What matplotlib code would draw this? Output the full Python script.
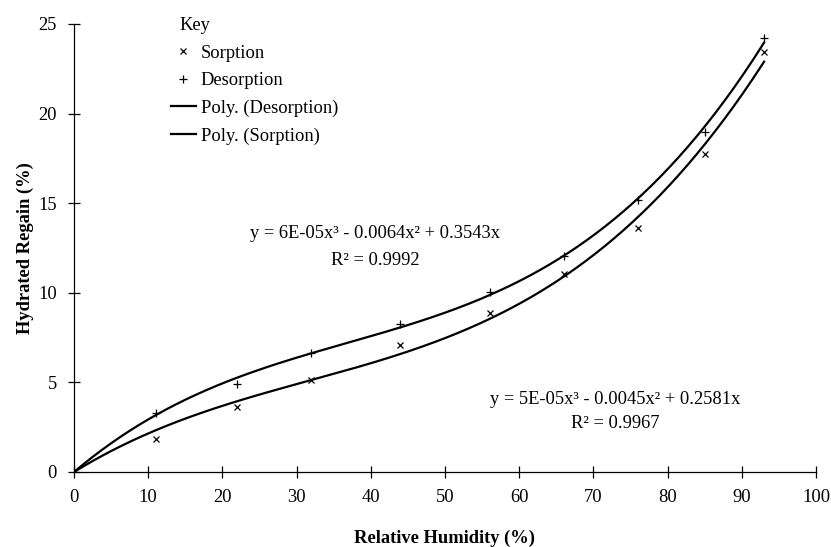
#!/usr/bin/env python3
import matplotlib
matplotlib.use("Agg")
import matplotlib.pyplot as plt
import numpy as np

# =========================
# Data
# =========================

RH = [11, 22, 32, 44, 56, 66, 76, 85, 93]
SORPTION = [1.82, 3.65, 5.13, 7.09, 8.89, 11.07, 13.6, 17.75, 23.46]
DESORPTION = [3.31, 4.91, 6.62, 8.26, 10.06, 12.05, 15.18, 18.96, 24.2]

X_TICKS = [0, 10, 20, 30, 40, 50, 60, 70, 80, 90, 100]
Y_TICKS = [0, 5, 10, 15, 20, 25]

EQ_DESORPTION = "y = 6E-05x\u00b3 - 0.0064x\u00b2 + 0.3543x"
R2_DESORPTION = "R\u00b2 = 0.9992"
EQ_SORPTION = "y = 5E-05x\u00b3 - 0.0045x\u00b2 + 0.2581x"
R2_SORPTION = "R\u00b2 = 0.9967"

# =========================
# Fitting (cubic through origin, like the spreadsheet trendline)
# =========================


def cubic_fit_zero_intercept(x, y):
    x = np.asarray(x, dtype=float)
    y = np.asarray(y, dtype=float)
    A = np.column_stack((x**3, x**2, x))
    coef, *_ = np.linalg.lstsq(A, y, rcond=None)
    return coef


def eval_cubic(coef, x):
    return coef[0] * x**3 + coef[1] * x**2 + coef[2] * x


plt.rcParams["font.family"] = ["Liberation Serif", "DejaVu Serif"]
FS = 13.3

fig = plt.figure(figsize=(8.31, 5.47), dpi=100)
ax = fig.add_axes([74 / 831, 1 - 472 / 547, (816 - 74) / 831, (472 - 24) / 547])

xs = np.linspace(0, max(RH), 300)
coef_d = cubic_fit_zero_intercept(RH, DESORPTION)
coef_s = cubic_fit_zero_intercept(RH, SORPTION)

sc_s, = ax.plot(RH, SORPTION, linestyle="none", marker="x", color="black",
                markersize=5, markeredgewidth=0.9, label="Sorption")
sc_d, = ax.plot(RH, DESORPTION, linestyle="none", marker="+", color="black",
                markersize=6, markeredgewidth=0.9, label="Desorption")
ln_d, = ax.plot(xs, eval_cubic(coef_d, xs), color="black", linewidth=1.6,
                label="Poly. (Desorption)")
ln_s, = ax.plot(xs, eval_cubic(coef_s, xs), color="black", linewidth=1.6,
                label="Poly. (Sorption)")

ax.set_xlim(0, 100)
ax.set_ylim(0, 25)
ax.set_xticks(X_TICKS)
ax.set_yticks(Y_TICKS)
ax.spines["top"].set_visible(False)
ax.spines["right"].set_visible(False)
ax.spines["left"].set_linewidth(0.9)
ax.spines["bottom"].set_linewidth(0.9)
ax.tick_params(direction="inout", length=8.6, width=0.9, labelsize=FS, pad=8)

ax.set_xlabel("Relative Humidity (%)", fontsize=FS, fontweight="bold", labelpad=17)
ax.set_ylabel("Hydrated Regain (%)", fontsize=FS, fontweight="bold", labelpad=3)

# trendline equations
ax.text(40.6, 13.3, EQ_DESORPTION, fontsize=FS, ha="center", va="center")
ax.text(40.6, 11.8, R2_DESORPTION, fontsize=FS, ha="center", va="center")
ax.text(72.9, 4.07, EQ_SORPTION, fontsize=FS, ha="center", va="center")
ax.text(72.9, 2.73, R2_SORPTION, fontsize=FS, ha="center", va="center")

leg = ax.legend(handles=[sc_s, sc_d, ln_d, ln_s], title="Key", loc="upper left",
                bbox_to_anchor=(171 / 831, 1 - 17 / 547), bbox_transform=fig.transFigure,
                frameon=False, fontsize=FS, title_fontsize=FS, alignment="left",
                handlelength=1.35, handletextpad=0.25, labelspacing=0.57,
                borderpad=0, borderaxespad=0)
leg.get_title().set_position((8, 0))

fig.savefig("out.png", dpi=100)
